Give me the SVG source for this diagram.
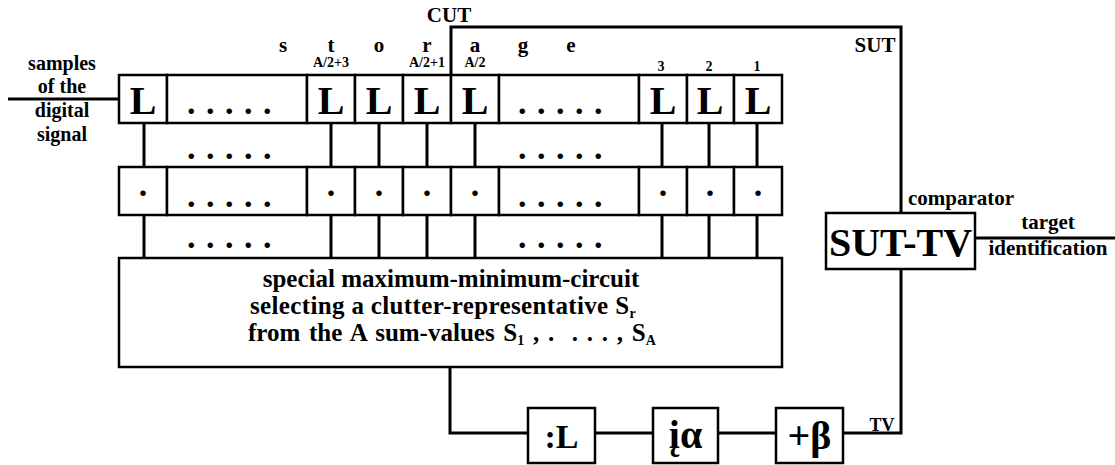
<svg xmlns="http://www.w3.org/2000/svg" width="1115" height="465" viewBox="0 0 1115 465">
<style>
text{font-family:"Liberation Serif","Times New Roman",serif;font-weight:bold;fill:#000}
.box{fill:#fff;stroke:#000;stroke-width:2.5}
.ln{fill:none;stroke:#000;stroke-width:3}
.L{font-size:40px;text-anchor:middle}
.dots{font-size:34px;letter-spacing:10.5px}
.dot{font-size:34px;text-anchor:middle}
.lbl{font-size:20px;text-anchor:middle}
.st{font-size:21px;text-anchor:middle}
.sub{font-size:14px;text-anchor:middle}
.mid{text-anchor:middle}
.big{font-size:25px;white-space:pre}
</style>
<rect width="1115" height="465" fill="#fff"/>
<g id="connectors">
<path class="ln" d="M8,99H119"/>
<path class="ln" d="M451,75V27H901V213"/>
<path class="ln" d="M144,123V167M331,123V167M379,123V167M427,123V167M475,123V167M662,123V167M709,123V167M757,123V167"/>
<path class="ln" d="M144,215V258M331,215V258M379,215V258M427,215V258M475,215V258M662,215V258M709,215V258M757,215V258"/>
<path class="ln" d="M450,367V433H528M595,433H653M718,433H776M843,433H901V269"/>
<path class="ln" d="M975,238H1115"/>
</g>
<g id="input-label">
<text class="lbl" x="62" y="70">samples</text>
<text class="lbl" x="62" y="93">of the</text>
<text class="lbl" x="62" y="117">digital</text>
<text class="lbl" x="62" y="141">signal</text>
</g>
<g id="labels">
<text class="lbl" x="449" y="22" style="font-size:21px">CUT</text>
<text class="lbl" x="875" y="52" style="font-size:21px">SUT</text>
<text class="st" x="283" y="52">s</text>
<text class="st" x="331" y="52">t</text>
<text class="st" x="379" y="52">o</text>
<text class="st" x="427" y="52">r</text>
<text class="st" x="475" y="52">a</text>
<text class="st" x="523" y="52">g</text>
<text class="st" x="571" y="52">e</text>
<text class="sub" x="331" y="67">A/2+3</text>
<text class="sub" x="427" y="67">A/2+1</text>
<text class="sub" x="475" y="67">A/2</text>
<text class="sub" x="661" y="71">3</text>
<text class="sub" x="709" y="71">2</text>
<text class="sub" x="757" y="71">1</text>
<text class="dots" x="187" y="159">.....</text>
<text class="dots" x="518" y="159">.....</text>
<text class="dots" x="187" y="248">.....</text>
<text class="dots" x="518" y="248">.....</text>
</g>
<g id="storage-row">
<rect class="box" x="119" y="75" width="48" height="48"/>
<rect class="box" x="167" y="75" width="140" height="48"/>
<rect class="box" x="307" y="75" width="48" height="48"/>
<rect class="box" x="355" y="75" width="48" height="48"/>
<rect class="box" x="403" y="75" width="48" height="48"/>
<rect class="box" x="451" y="75" width="48" height="48"/>
<rect class="box" x="499" y="75" width="140" height="48"/>
<rect class="box" x="639" y="75" width="48" height="48"/>
<rect class="box" x="687" y="75" width="47" height="48"/>
<rect class="box" x="734" y="75" width="48" height="48"/>
<text class="L" x="143" y="114">L</text>
<text class="dots" x="187" y="114">.....</text>
<text class="L" x="331" y="114">L</text>
<text class="L" x="379" y="114">L</text>
<text class="L" x="427" y="114">L</text>
<text class="L" x="475" y="114">L</text>
<text class="dots" x="518" y="114">.....</text>
<text class="L" x="663" y="114">L</text>
<text class="L" x="710" y="114">L</text>
<text class="L" x="758" y="114">L</text>
</g>
<g id="sum-row">
<rect class="box" x="119" y="167" width="48" height="48"/>
<rect class="box" x="167" y="167" width="140" height="48"/>
<rect class="box" x="307" y="167" width="48" height="48"/>
<rect class="box" x="355" y="167" width="48" height="48"/>
<rect class="box" x="403" y="167" width="48" height="48"/>
<rect class="box" x="451" y="167" width="48" height="48"/>
<rect class="box" x="499" y="167" width="140" height="48"/>
<rect class="box" x="639" y="167" width="48" height="48"/>
<rect class="box" x="687" y="167" width="47" height="48"/>
<rect class="box" x="734" y="167" width="48" height="48"/>
<text class="dot" x="143" y="196">.</text>
<text class="dots" x="187" y="207">.....</text>
<text class="dot" x="331" y="196">.</text>
<text class="dot" x="379" y="196">.</text>
<text class="dot" x="427" y="196">.</text>
<text class="dot" x="475" y="196">.</text>
<text class="dots" x="518" y="207">.....</text>
<text class="dot" x="663" y="196">.</text>
<text class="dot" x="710" y="196">.</text>
<text class="dot" x="758" y="196">.</text>
</g>
<g id="max-min-circuit">
<rect class="box" x="119" y="258" width="663" height="109"/>
<text class="big" x="451" y="287" text-anchor="middle">special maximum-minimum-circuit</text>
<text class="big" x="250" y="314" letter-spacing="0.35">selecting a clutter-representative S<tspan font-size="14" dy="4">r</tspan></text>
<text class="big" x="248" y="341" word-spacing="2.5">from the A sum-values S<tspan font-size="14" dy="4">1</tspan><tspan dy="-4"> , .  . . . , S</tspan><tspan font-size="14" dy="4">A</tspan></text>
</g>
<g id="div-L">
<rect class="box" x="528" y="408" width="67" height="55"/>
<text class="mid" x="561.5" y="448" style="font-size:34px">:L</text>
</g>
<g id="alpha">
<rect class="box" x="653" y="408" width="65" height="55"/>
<text class="mid" x="685.5" y="448" style="font-size:40px">įα</text>
</g>
<g id="plus-beta">
<rect class="box" x="776" y="408" width="67" height="55"/>
<text class="mid" x="809.5" y="449" style="font-size:40px">+β</text>
</g>
<g id="tv-label"><text class="mid" x="882" y="431" style="font-size:18px">TV</text></g>
<g id="comparator">
<rect class="box" x="826" y="213" width="149" height="56"/>
<text class="mid" x="900.5" y="256" style="font-size:40px">SUT-TV</text>
<text x="908" y="205" style="font-size:21px">comparator</text>
</g>
<g id="output-label">
<text class="mid" x="1048" y="229" style="font-size:21px">target</text>
<text class="mid" x="1048" y="255" style="font-size:21px">identification</text>
</g>
</svg>
